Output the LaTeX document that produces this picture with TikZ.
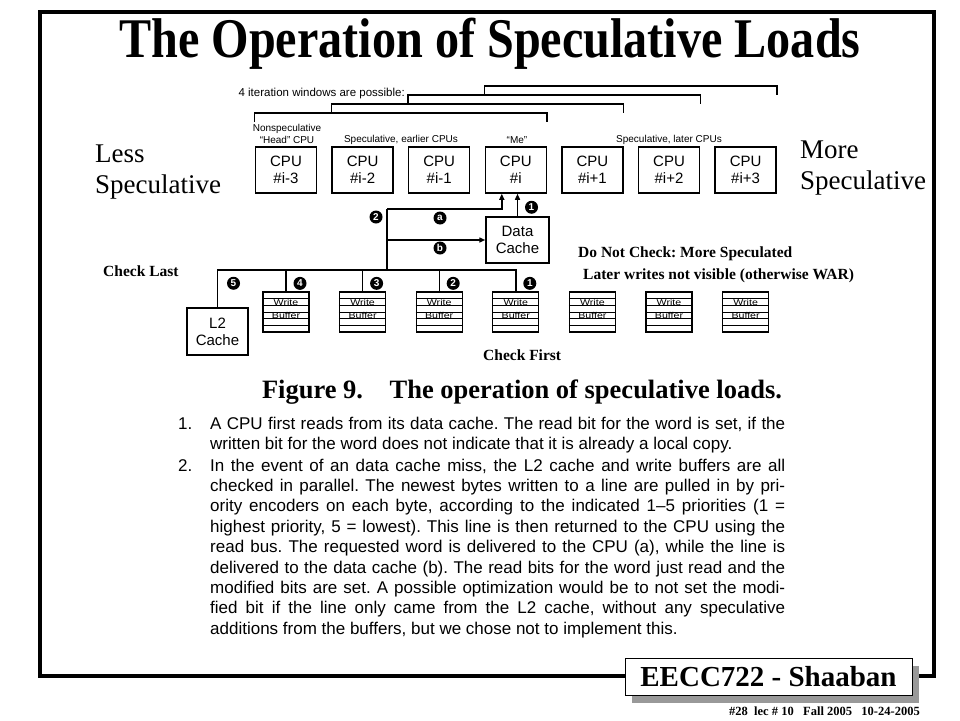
\documentclass[tikz,border=0pt]{standalone}
\usepackage{fontspec}
\setmainfont{Liberation Serif}
\setsansfont{Liberation Sans}
\newfontfamily\titlefont[FakeStretch=0.86]{Liberation Serif}
\newfontfamily\bodyfont{Liberation Sans}
\usetikzlibrary{positioning,calc,arrows.meta,shadows}
\frenchspacing

\tikzset{
	cpubox/.style={draw,line width=1.5pt,minimum width=61pt,minimum height=46pt,inner sep=0pt,align=center,font=\sffamily\fontsize{15}{17}\selectfont},
	wbuf/.style={draw,line width=1.3pt,minimum width=46pt,minimum height=40pt,inner sep=0pt},
	numdot/.style={circle,fill=black,text=white,inner sep=0pt,minimum size=13pt,font=\sffamily\bfseries\fontsize{10}{10}\selectfont},
	bus/.style={line width=1.4pt},
	toarrow/.style={bus,-{Triangle[length=6pt,width=5pt]}},
	notelbl/.style={font=\bfseries\fontsize{15.5}{17}\selectfont,inner sep=0pt},
	toplbl/.style={font=\sffamily\fontsize{10}{11.5}\selectfont,align=center,inner sep=0pt},
	sidelbl/.style={font=\fontsize{27}{31}\selectfont,align=left,inner sep=0pt}
}

\begin{document}
\begin{tikzpicture}[x=1pt,y=-1pt]
	\useasboundingbox (0,0) rectangle (960,720);
	\fill[white] (0,0) rectangle (960,720);
	\draw[line width=4pt] (40,12) rectangle (934,676);

	\node[anchor=base,inner sep=0pt] (title) at (490,57) {\titlefont\bfseries\fontsize{56}{56}\selectfont The Operation of Speculative Loads};

	\foreach \n/\t [count=\k from 0] in {m3/{\#i-3},m2/{\#i-2},m1/{\#i-1},0/{\#i},p1/{\#i+1},p2/{\#i+2},p3/{\#i+3}}
		\node[cpubox] (cpu\n) at (286+76.6*\k,170) {CPU\\\t};

	\foreach \a/\b/\h in {m3/0/113,m2/p1/104,m1/p2/95,0/p3/86}
		\draw[bus] (cpu\a.north west |- 0,\h+9) -- (cpu\a.north west |- 0,\h) -- (cpu\b.north east |- 0,\h) -- (cpu\b.north east |- 0,\h+9);

	\node[anchor=base east,inner sep=0pt,font=\sffamily\fontsize{11.5}{12}\selectfont] (winlbl) at (405,96) {4 iteration windows are possible:};
	\node[toplbl] (headlbl) at (287,134) {Nonspeculative\\“Head” CPU};
	\node[toplbl] (earlylbl) at (401,140) {Speculative, earlier CPUs};
	\node[toplbl] (melbl) at (517,140) {“Me”};
	\node[toplbl] (latelbl) at (669,140) {Speculative, later CPUs};

	\node[sidelbl,anchor=north west] (lessspec) at (95,145) {Less\\Speculative};
	\node[sidelbl,anchor=north west] (morespec) at (800,141) {More\\Speculative};

	\node[cpubox,minimum width=63pt] (dcache) at (517.5,240) {Data\\Cache};
	\node[cpubox,minimum height=47pt] (l2) at (217.5,331.5) {L2\\Cache};

	\foreach \i in {1,...,7} {
		\node[wbuf] (wb\i) at (286+76.6*\i-76.6,312) {};
		\node[font=\sffamily\fontsize{8.5}{9}\selectfont,inner sep=0pt] at ($(wb\i.north)+(0,11)$) {\scalebox{1.25}[1]{Write}};
		\node[font=\sffamily\fontsize{8.5}{9}\selectfont,inner sep=0pt] at ($(wb\i.north)+(0,24.5)$) {\scalebox{1.25}[1]{Buffer}};
		\foreach \r in {1,...,5}
			\draw[line width=0.9pt] ($(wb\i.north west)!\r/6!(wb\i.south west)$) -- ($(wb\i.north east)!\r/6!(wb\i.south east)$);
	}

	\coordinate (tap) at (387,209);
	\coordinate (busj) at (387,270);
	\draw[bus] (l2.north) |- (busj) -| (wb4.north);
	\draw[bus] (tap) -- (busj);
	\foreach \i in {1,2,3}
		\draw[bus] (wb\i.north) -- (wb\i.north |- busj);
	\draw[toarrow] (tap) -| ($(cpu0.south)+(-14,0)$);
	\draw[toarrow] (dcache.north) -- (dcache.north |- cpu0.south);
	\draw[toarrow] (busj |- dcache.west) -- (dcache.west);

	\node[numdot] (p5) at ($(l2.north)+(16,-24)$) {5};
	\foreach \i/\p in {1/4,2/3,3/2,4/1}
		\node[numdot] (p\p) at ($(wb\i.north)+(14,-8)$) {\p};
	\node[numdot] (d1) at ($(dcache.north)+(14,-9)$) {1};
	\node[numdot] (d2) at ($(tap)+(-11,8)$) {2};
	\node[numdot] (da) at (440,218) {a};
	\node[numdot] (db) at (440,248) {b};

	\node[notelbl,anchor=west] (chklast) at (103,271) {Check Last};
	\node[notelbl,anchor=west] (nocheck) at (578,254) {Do Not Check: More Speculated};
	\node[notelbl,anchor=west] (nowar) at (583,276) {Later writes not visible (otherwise WAR)};
	\node[notelbl,anchor=west] (chkfirst) at (483,355) {Check First};

	\node[inner sep=0pt,font=\bfseries\fontsize{26.5}{27}\selectfont] (caption) at (522,392) {Figure 9.\quad The operation of speculative loads.};

	\node[anchor=base west,inner sep=0pt] (num1) at (178,429) {\bodyfont\fontsize{17}{20.4}\selectfont 1.};
	\node[anchor=base west,inner sep=0pt] (para1) at (210,429) {\parbox[t]{575pt}{\bodyfont\fontsize{17}{20.4}\selectfont A CPU first reads from its data cache. The read bit for the word is set, if the\linebreak written bit for the word does not indicate that it is already a local copy.}};
	\node[anchor=base west,inner sep=0pt] (num2) at (178,471) {\bodyfont\fontsize{17}{20.4}\selectfont 2.};
	\node[anchor=base west,inner sep=0pt] (para2) at (210,471) {\parbox[t]{575pt}{\bodyfont\fontsize{17}{20.4}\selectfont In the event of an data cache miss, the L2 cache and write buffers are all\linebreak checked in parallel. The newest bytes written to a line are pulled in by pri-\linebreak ority encoders on each byte, according to the indicated 1–5 priorities (1 =\linebreak highest priority, 5 = lowest). This line is then returned to the CPU using the\linebreak read bus. The requested word is delivered to the CPU (a), while the line is\linebreak delivered to the data cache (b). The read bits for the word just read and the\linebreak modified bits are set. A possible optimization would be to not set the modi-\linebreak fied bit if the line only came from the L2 cache, without any speculative\linebreak additions from the buffers, but we chose not to implement this.}};

	\node[draw,line width=1pt,fill=white,minimum width=287pt,minimum height=37pt,inner sep=0pt,drop shadow={shadow xshift=7pt,shadow yshift=-8pt,fill=black!40,opacity=1},font=\bfseries\fontsize{29}{29}\selectfont] (foot) at (768.5,676.5) {EECC722 - Shaaban};
	\node[anchor=base east,inner sep=0pt,font=\bfseries\fontsize{12.5}{13}\selectfont] (slide) at (920,715) {\#28~~lec \# 10~~~Fall 2005~~~10-24-2005};
\end{tikzpicture}
\end{document}
